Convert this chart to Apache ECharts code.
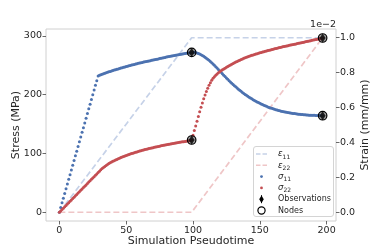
<!DOCTYPE html>
<html><head><meta charset="utf-8">
<script src="https://cdn.jsdelivr.net/npm/echarts@6/dist/echarts.min.js"></script>
<style>html,body{margin:0;padding:0;background:#fff}#c{width:374px;height:249px}</style>
</head><body><div id="c"></div>
<script>
// ---- data ----
const xTicks = [0, 50, 100, 150, 200];
const stressTicks = [0, 100, 200, 300];
const strainTicks = [0, 0.2, 0.4, 0.6, 0.8, 1.0];

// sigma_11 (MPa) at pseudotime steps 0..197
const sigma11 = [
0,8,16,24,32,40,48,56,64,72,80,88,96,104,112,120,128,136,144,152,160,168,176,184,192,200,208,216,224,232,
233.0,233.9,234.8,235.7,236.5,237.3,238.1,238.9,239.7,240.5,
241.2,241.9,242.6,243.3,244.0,244.7,245.4,246.1,246.8,247.4,
248.0,248.6,249.2,249.8,250.4,251.0,251.6,252.2,252.8,253.4,
254.0,254.5,255.0,255.5,256.0,256.5,257.0,257.5,258.0,258.5,
259.0,259.5,260.0,260.5,261.0,261.5,262.0,262.5,263.0,263.5,
264.0,264.5,265.0,265.5,266.0,266.4,266.8,267.2,267.6,268.0,
268.4,268.8,269.2,269.6,270.0,270.4,270.8,271.2,271.6,
272.0,272.3,272.2,271.8,271.1,270.2,269.2,268.0,266.7,265.3,
263.8,262.2,260.5,258.6,256.6,254.5,252.3,250.0,247.7,245.3,
242.9,240.5,238.1,235.7,233.3,230.9,228.6,226.3,224.0,221.8,
219.6,217.5,215.4,213.4,211.4,209.5,207.6,205.8,204.0,202.3,
200.6,199.0,197.4,195.9,194.4,193.0,191.6,190.3,189.0,187.8,
186.6,185.4,184.3,183.2,182.2,181.2,180.2,179.3,178.4,177.6,
176.8,176.0,175.3,174.6,173.9,173.3,172.7,172.1,171.6,171.1,
170.6,170.1,169.7,169.3,168.9,168.5,168.2,167.9,167.6,167.3,
167.0,166.7,166.5,166.3,166.1,165.9,165.7,165.5,165.3,165.2,
165.1,165.0,164.9,164.8,164.7,164.6,164.5,164.4,164.3
];
// sigma_22 (MPa) at pseudotime steps 0..197
const sigma22 = [
0,2.3,4.6,7.0,9.3,11.6,14.0,16.3,18.6,21.0,23.3,25.6,28.0,30.3,32.6,35.0,37.3,39.6,42.0,44.3,46.6,49.0,51.3,53.6,56.0,58.3,60.6,63.0,65.3,67.6,70.0,
72.2,74.3,76.2,78.0,79.7,81.3,82.8,84.2,85.5,86.7,
87.8,88.9,90.0,91.0,92.0,93.0,93.9,94.8,95.7,96.6,
97.4,98.2,99.0,99.8,100.6,101.3,102.0,102.7,103.4,104.1,
104.8,105.4,106.0,106.6,107.2,107.8,108.4,109.0,109.5,110.0,
110.5,111.0,111.5,112.0,112.5,113.0,113.5,114.0,114.5,115.0,
115.4,115.8,116.2,116.6,117.0,117.4,117.8,118.2,118.6,119.0,
119.4,119.8,120.2,120.6,121.0,121.4,121.8,122.2,
123.0,131.0,139.0,147.0,155.0,163.0,171.0,178.5,186.0,193.0,
199.5,205.5,211.0,216.0,220.5,224.5,228.0,230.5,233.0,235.2,
237.2,239.0,240.7,242.3,243.8,245.2,246.6,248.0,249.3,250.6,
251.9,253.1,254.3,255.5,256.6,257.7,258.8,259.9,260.9,261.9,
262.9,263.8,264.6,265.4,266.2,267.0,267.8,268.5,269.2,269.9,
270.6,271.3,272.0,272.7,273.3,273.9,274.5,275.1,275.7,276.3,
276.9,277.5,278.1,278.7,279.3,279.9,280.5,281.0,281.5,282.0,
282.5,283.0,283.5,284.0,284.5,285.0,285.5,286.0,286.5,287.0,
287.5,288.0,288.5,289.0,289.5,290.0,290.5,291.0,291.5,292.0,
292.5,293.0,293.5,294.0,294.5,295.0,295.5,296.0,296.5
];
// strain (x1e-2 mm/mm)
const strainT = [0, 99, 197];
const eps11 = [0, 1, 1];
const eps22 = [0, 0, 1];
// observation / node points
const nodeT = [99, 197, 99, 197];
const nodeV = [272.0, 164.3, 123.0, 296.5];

const legendLabels = ['ε|11', 'ε|22', 'σ|11', 'σ|22', 'Observations', 'Nodes'];

// ---- styling ----
const FONT = 'DejaVu Sans';
const TXT = '#262626';
const C11 = '#4c72b0', C22 = '#c44e52';
const E11 = '#c6d2e8', E22 = '#efc6c7';

const pairs = (xs, ys) => ys.map((v, i) => [xs[i], v]);
const idxPairs = ys => ys.map((v, i) => [i, v]);

const chart = echarts.init(document.getElementById('c'), null, {renderer: 'canvas'});

const axisLabelStyle = {color: TXT, fontSize: 9.5, fontFamily: FONT};
const tickStyle = {show: true, inside: false, length: 3.5, lineStyle: {color: '#444', width: 0.8}};
const hiddenLine = {show: false, onZero: false};

// legend graphic
const lgX = 253.5, lgY = 146.5, lgRow = 11.3, lgY0 = 154;
const hx1 = 256, hx2 = 267, hc = 261.5, tx = 278;
const graphics = [
  {type: 'rect', z: 100, shape: {x: lgX, y: lgY, width: 80, height: 70, r: 2.5},
   style: {fill: 'rgba(255,255,255,0.85)', stroke: '#d4d4d4', lineWidth: 1}},
  {type: 'line', z: 101, shape: {x1: hx1, y1: lgY0, x2: hx2, y2: lgY0},
   style: {stroke: E11, lineWidth: 1.6, lineDash: [4.5, 2]}},
  {type: 'line', z: 101, shape: {x1: hx1, y1: lgY0 + lgRow, x2: hx2, y2: lgY0 + lgRow},
   style: {stroke: E22, lineWidth: 1.6, lineDash: [4.5, 2]}},
  {type: 'circle', z: 101, shape: {cx: hc, cy: lgY0 + 2 * lgRow, r: 1.4}, style: {fill: C11}},
  {type: 'circle', z: 101, shape: {cx: hc, cy: lgY0 + 3 * lgRow, r: 1.4}, style: {fill: C22}},
  {type: 'line', z: 101, shape: {x1: hc, y1: lgY0 + 4 * lgRow - 4, x2: hc, y2: lgY0 + 4 * lgRow + 4},
   style: {stroke: '#000', lineWidth: 1}},
  {type: 'polygon', z: 102, shape: {points: [[hc, lgY0 + 4 * lgRow - 3.8], [hc + 2.3, lgY0 + 4 * lgRow], [hc, lgY0 + 4 * lgRow + 3.8], [hc - 2.3, lgY0 + 4 * lgRow]]},
   style: {fill: '#000'}},
  {type: 'circle', z: 101, shape: {cx: hc, cy: lgY0 + 5 * lgRow, r: 3.6}, style: {fill: 'none', stroke: '#000', lineWidth: 1.2}},
  {type: 'text', z: 103, x: 336, y: 25,
   style: {text: '1e\u22122', fill: TXT, fontSize: 9.5, fontFamily: FONT, align: 'right', verticalAlign: 'middle'}}
];
legendLabels.forEach((lab, i) => {
  let text, rich;
  if (lab.indexOf('|') >= 0) {
    const [g, sub] = lab.split('|');
    text = '{g|' + g + '}{s|' + sub + '}';
    rich = {
      g: {fontStyle: 'italic', fontSize: 8.5, fontFamily: FONT, fill: TXT, lineHeight: 12},
      s: {fontSize: 6, fontFamily: FONT, fill: TXT, verticalAlign: 'bottom', lineHeight: 12, padding: [3, 0, 0, 0]}
    };
  } else {
    text = lab;
  }
  const el = {type: 'text', z: 103, x: tx, y: lgY0 + i * lgRow,
    style: {text: text, fill: TXT, fontSize: 8, fontFamily: FONT, align: 'left', verticalAlign: 'middle'}};
  if (rich) el.style.rich = rich;
  graphics.push(el);
});

const option = {
  animation: false,
  backgroundColor: '#fff',
  textStyle: {fontFamily: FONT},
  grid: {left: 46, right: 38, top: 29, bottom: 28, containLabel: false, outerBoundsMode: 'none',
         show: true, borderColor: '#d0d0d0', borderWidth: 1, backgroundColor: 'transparent'},
  xAxis: {
    type: 'value', min: -10, max: 207, position: 'bottom',
    name: 'Simulation Pseudotime', nameLocation: 'middle', nameGap: 15, nameMoveOverlap: false,
    nameTextStyle: {color: TXT, fontSize: 11, fontFamily: FONT},
    axisLine: hiddenLine, splitLine: {show: false},
    axisTick: Object.assign({customValues: xTicks}, tickStyle),
    axisLabel: Object.assign({customValues: xTicks, margin: 5}, axisLabelStyle)
  },
  yAxis: [{
    type: 'value', min: -14.85, max: 311.85, position: 'left',
    name: 'Stress (MPa)', nameLocation: 'middle', nameGap: 24, nameMoveOverlap: false,
    nameTextStyle: {color: TXT, fontSize: 11, fontFamily: FONT},
    axisLine: hiddenLine, splitLine: {show: false},
    axisTick: Object.assign({customValues: stressTicks}, tickStyle),
    axisLabel: Object.assign({customValues: stressTicks, margin: 4}, axisLabelStyle)
  }, {
    type: 'value', min: -0.05, max: 1.05, position: 'right',
    name: 'Strain (mm/mm)', nameLocation: 'middle', nameGap: 24, nameMoveOverlap: false,
    nameTextStyle: {color: TXT, fontSize: 11, fontFamily: FONT},
    axisLine: hiddenLine, splitLine: {show: false},
    axisTick: Object.assign({customValues: strainTicks}, tickStyle),
    axisLabel: Object.assign({customValues: strainTicks, margin: 4, formatter: v => v.toFixed(1)}, axisLabelStyle)
  }],
  graphic: graphics,
  series: [
    {name: 'ε11', type: 'line', yAxisIndex: 1, data: pairs(strainT, eps11), symbol: 'none', z: 1,
     lineStyle: {color: E11, width: 1.7, type: [6, 3]}},
    {name: 'ε22', type: 'line', yAxisIndex: 1, data: pairs(strainT, eps22), symbol: 'none', z: 1,
     lineStyle: {color: E22, width: 1.7, type: [6, 3]}},
    {name: 'σ11', type: 'scatter', yAxisIndex: 0, data: idxPairs(sigma11), symbol: 'circle', symbolSize: 3, z: 3,
     itemStyle: {color: C11, opacity: 1}},
    {name: 'σ22', type: 'scatter', yAxisIndex: 0, data: idxPairs(sigma22), symbol: 'circle', symbolSize: 3, z: 3,
     itemStyle: {color: C22, opacity: 1}},
    {name: 'Observations', type: 'scatter', yAxisIndex: 0, data: pairs(nodeT, nodeV), symbol: 'diamond', symbolSize: [6, 9], z: 5,
     itemStyle: {color: '#1a1a1a', opacity: 0.9}},
    {name: 'Nodes', type: 'scatter', yAxisIndex: 0, data: pairs(nodeT, nodeV), symbol: 'circle', symbolSize: 8.5, z: 6,
     itemStyle: {color: 'rgba(0,0,0,0.35)', borderColor: '#000', borderWidth: 1.2, opacity: 1}}
  ]
};
chart.setOption(option);
</script></body></html>
